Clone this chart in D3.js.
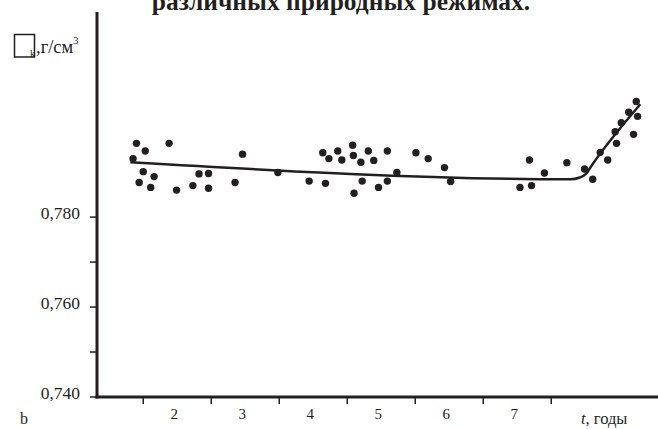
<!DOCTYPE html>
<html>
<head>
<meta charset="utf-8">
<script src="https://cdn.jsdelivr.net/npm/d3@7"></script>
<style>
  body { margin: 0; background: #fff; }
  svg { display: block; }
  text { font-family: "Liberation Serif", "Times New Roman", serif; fill: #231f20; }
</style>
</head>
<body>
<svg id="chart" width="658" height="429"></svg>
<script>
// годы (t) и плотность (г/см3) для точек
var pointYears = [1.40, 1.53, 1.88, 1.35, 1.50, 1.66, 1.44, 1.61, 1.99, 2.32,
                  2.46, 2.23, 2.46, 2.85, 2.96, 3.48, 3.94, 4.18, 4.14, 4.23,
                  4.36, 4.42, 4.58, 4.59, 4.70, 4.72, 4.60, 4.81, 4.89, 4.96,
                  5.09, 5.09, 5.23, 5.51, 5.69, 5.93, 6.02, 7.18, 7.04, 7.21,
                  7.40, 7.73, 7.99, 8.11, 8.22, 8.33, 8.44, 8.46, 8.53, 8.71,
                  8.64, 8.77, 8.75]
var pointDensity = [0.7964, 0.7947, 0.7964, 0.7930, 0.7901, 0.7890, 0.7877, 0.7866, 0.7860, 0.7896,
                    0.7897, 0.7870, 0.7864, 0.7877, 0.7940, 0.7899, 0.7880, 0.7875, 0.7943, 0.7930,
                    0.7947, 0.7927, 0.7960, 0.7937, 0.7922, 0.7880, 0.7853, 0.7947, 0.7926, 0.7866,
                    0.7947, 0.7880, 0.7899, 0.7943, 0.7930, 0.7910, 0.7879, 0.7927, 0.7866, 0.7870,
                    0.7898, 0.7921, 0.7907, 0.7884, 0.7944, 0.7927, 0.7990, 0.7964, 0.8010, 0.7984,
                    0.8033, 0.8024, 0.8057]

// линия тренда
var trendYears = [1.31, 7.78, 7.92, 8.01, 8.10, 8.81]
var trendDensity = [0.7922, 0.7884, 0.7888, 0.7896, 0.7916, 0.8051]

// подписи осей
var yearLabels = ["2", "3", "4", "5", "6", "7"]
var yearCenters = [2, 3, 4, 5, 6, 7]
var yearTicks = [1.5, 2.5, 3.5, 4.5, 5.5, 6.5, 7.5]
var densityTicks = [0.740, 0.750, 0.760, 0.770, 0.780]
var densityLabeled = [0.740, 0.760, 0.780]

var ink = "#231f20"
var svg = d3.select("#chart")

var x = d3.scaleLinear().domain([0.82, 9.07]).range([97, 658])
var y = d3.scaleLinear().domain([0.740, 0.8256]).range([397, 12])

// заголовок (в оригинале обрезан сверху)
svg.append("text")
  .attr("x", 341)
  .attr("y", 9.5)
  .attr("text-anchor", "middle")
  .style("font-weight", "bold")
  .style("font-size", "25.5px")
  .text("различных природных режимах.")

// оси
svg.append("line")
  .attr("x1", x.range()[0]).attr("x2", x.range()[0])
  .attr("y1", y.range()[1]).attr("y2", y.range()[0] + 1.5)
  .attr("stroke", ink).attr("stroke-width", 3)
svg.append("line")
  .attr("x1", x.range()[0] - 1.5).attr("x2", x.range()[1])
  .attr("y1", y.range()[0]).attr("y2", y.range()[0])
  .attr("stroke", ink).attr("stroke-width", 3)

svg.append("g")
  .selectAll("line")
  .data(yearTicks)
  .enter()
  .append("line")
  .attr("x1", d => x(d)).attr("x2", d => x(d))
  .attr("y1", 397).attr("y2", 404)
  .attr("stroke", ink).attr("stroke-width", 1.5)

svg.append("g")
  .selectAll("line")
  .data(densityTicks)
  .enter()
  .append("line")
  .attr("x1", 90).attr("x2", 97)
  .attr("y1", d => y(d)).attr("y2", d => y(d))
  .attr("stroke", ink).attr("stroke-width", 1.5)

svg.append("g")
  .selectAll("text")
  .data(yearCenters)
  .enter()
  .append("text")
  .attr("x", d => x(d) - 3)
  .attr("y", 419)
  .attr("text-anchor", "middle")
  .style("font-size", "15px")
  .text((d, i) => yearLabels[i])

svg.append("g")
  .selectAll("text")
  .data(densityLabeled)
  .enter()
  .append("text")
  .attr("x", 80)
  .attr("y", d => y(d) + 2)
  .attr("text-anchor", "end")
  .style("font-size", "17.5px")
  .text(d => d3.format(".3f")(d).replace(".", ","))

// подпись оси x
var xt = svg.append("text")
  .attr("x", 581)
  .attr("y", 424)
  .style("font-size", "16.5px")
xt.append("tspan").style("font-style", "italic").text("t")
xt.append("tspan").text(", годы")

// подпись оси y
svg.append("rect")
  .attr("x", 14.5).attr("y", 34.5)
  .attr("width", 20).attr("height", 22.5)
  .attr("fill", "none").attr("stroke", ink).attr("stroke-width", 1.5)
svg.append("text")
  .attr("x", 30).attr("y", 57)
  .style("font-size", "10px")
  .text("k")
var yt = svg.append("text")
  .attr("x", 36)
  .attr("y", 53)
  .style("font-size", "18.5px")
yt.append("tspan").text(",г/см")
yt.append("tspan").attr("dy", -9).style("font-size", "10.5px").text("3")

svg.append("text")
  .attr("x", 20)
  .attr("y", 424)
  .style("font-size", "16px")
  .text("b")

// тренд
var trend = trendYears.map((d, i) => [d, trendDensity[i]])
svg.append("path")
  .datum(trend)
  .attr("fill", "none")
  .attr("stroke", ink)
  .attr("stroke-width", 2.5)
  .attr("d", d3.line().x(d => x(d[0])).y(d => y(d[1])).curve(d3.curveMonotoneX))

// точки
svg.append("g")
  .selectAll("circle")
  .data(pointYears)
  .enter()
  .append("circle")
  .attr("cx", d => x(d))
  .attr("cy", (d, i) => y(pointDensity[i]))
  .attr("r", 3.7)
  .attr("fill", ink)
</script>
</body>
</html>
